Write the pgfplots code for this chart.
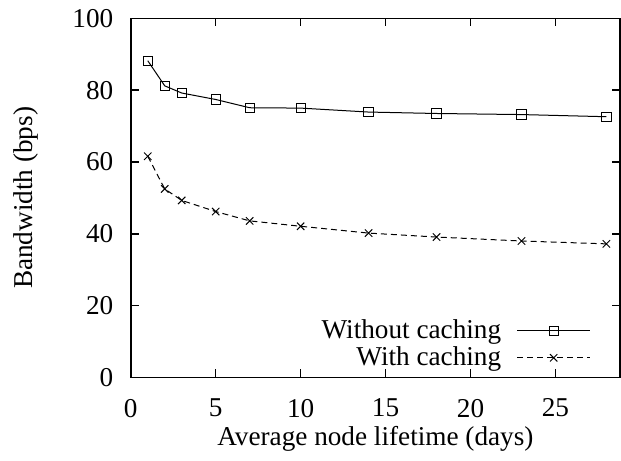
\documentclass[border=0pt]{standalone}
\usepackage{fontspec}
\setmainfont{Liberation Serif}
\usepackage{pgfplots}
\pgfplotsset{compat=1.18}
\begin{document}
\fontsize{13.6}{15}\selectfont
\begin{tikzpicture}
\begin{axis}[
  name=ax,
  scale only axis,
  width=244.5pt, height=179.5pt,
  xmin=0, xmax=28.8, ymin=0, ymax=100,
  xtick={0,5,10,15,20,25}, ytick={0,20,40,60,80,100},
  xticklabels={0,5,10,15,20,25},
  yticklabels={0,20,40,60,80,100},
  tick align=inside,
  major tick length=4pt,
  axis line style={line width=0.8pt},
  every tick/.style={black, line width=0.8pt},
  yticklabel style={xshift=-4pt},
  xticklabel style={yshift=-6pt},
  xlabel={Average node lifetime (days)},
  ylabel={Bandwidth (bps)},
  every axis y label/.style={at={(axis description cs:-0.215,0.5)}, rotate=90, anchor=center},
  every axis x label/.style={at={(axis description cs:0.5,-0.17)}, anchor=center},
  legend plot pos=right,
  legend cell align=right,
  legend style={at={(axis description cs:0.945,0.005)}, anchor=south east, draw=none, fill=none,
    row sep=-2pt, inner sep=1pt},
  legend image code/.code={\path[draw=none, fill=none] (0pt,-0.5pt) rectangle (0.1pt,0.5pt);\draw[#1, mark repeat=2, mark phase=2] plot coordinates {(6pt,0pt) (24.25pt,0pt) (42.5pt,0pt)};},
]
\addplot[black, line width=0.5pt, mark=square, mark size=2.3pt, mark options={solid, line width=0.5pt}]
  coordinates {(1,88.2) (2,81.2) (3,79.2) (5,77.4) (7,75.1) (10,75.0) (14,73.9) (18,73.5) (23,73.2) (28,72.6)};
\addlegendentry{Without caching}
\addplot[black, line width=0.5pt, dash pattern=on 3pt off 2pt, mark=x, mark size=2.6pt, mark options={solid, line width=0.5pt}]
  coordinates {(1,61.6) (2,52.5) (3,49.3) (5,46.2) (7,43.6) (10,42.1) (14,40.2) (18,39.1) (23,38.0) (28,37.2)};
\addlegendentry{With caching}
\end{axis}
\pgfresetboundingbox
\path ([xshift=-65.35pt, yshift=-41.65pt]ax.south west) rectangle ([xshift=0.5pt, yshift=9.15pt]ax.north east);
\end{tikzpicture}
\end{document}
